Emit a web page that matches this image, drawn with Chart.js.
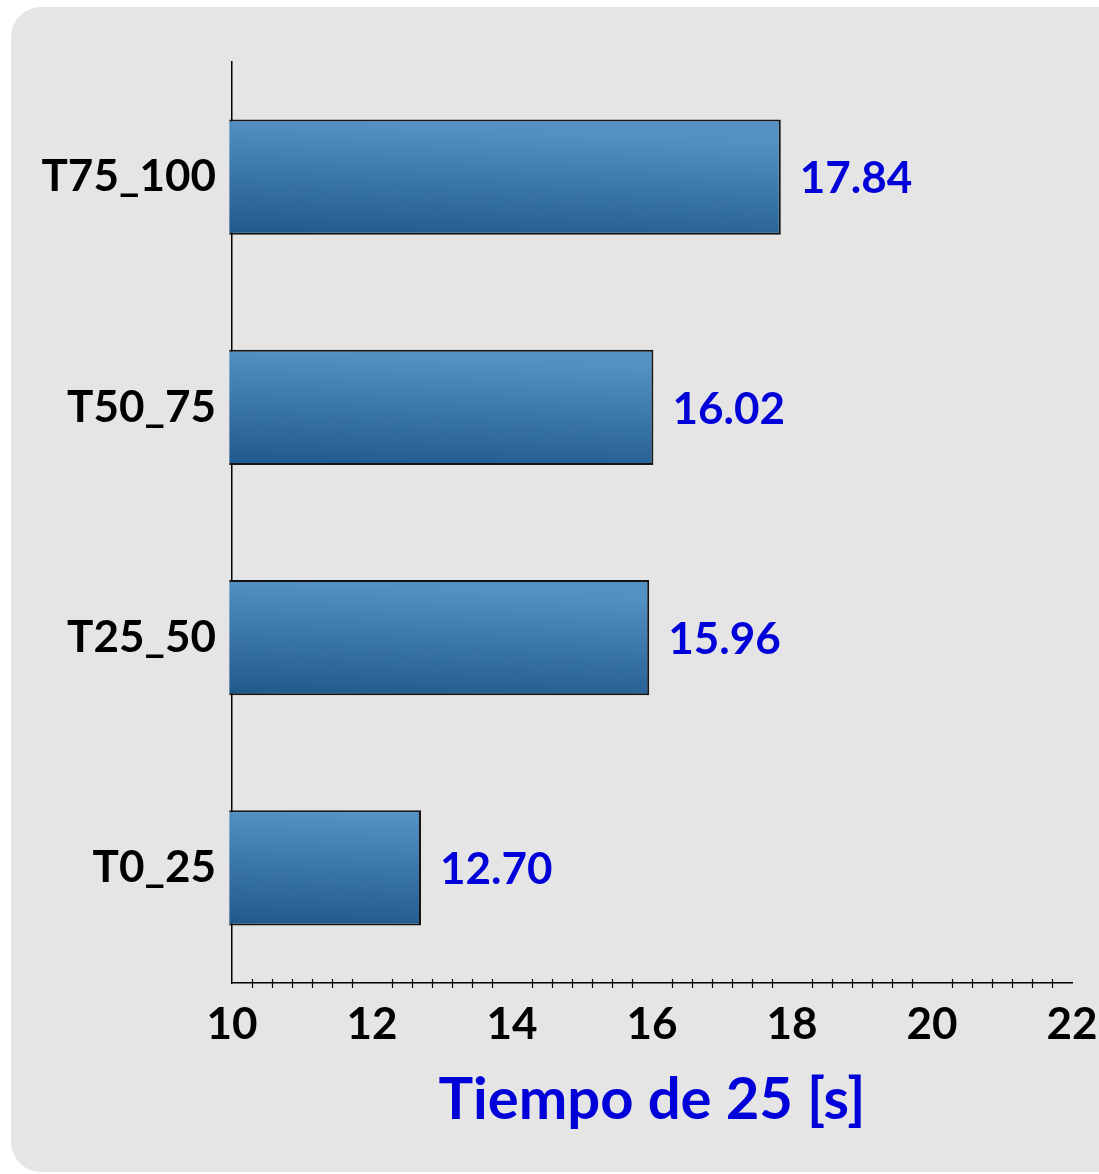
<!DOCTYPE html>
<html>
<head>
<meta charset="utf-8">
<script src="https://cdn.jsdelivr.net/npm/chart.js@4/dist/chart.umd.min.js"></script>
<style>
  html, body { margin: 0; padding: 0; background: #ffffff; }
  #wrap { width: 1099px; height: 1174px; }
</style>
</head>
<body>
<div id="wrap"><canvas id="timeChart" width="1099" height="1174"></canvas></div>
<script>
// chart data
const categories = ["T75_100", "T50_75", "T25_50", "T0_25"];
const tiempos = [17.84, 16.02, 15.96, 12.70];
const axisMin = 10;
const axisMax = 22;
const axisTitle = "Tiempo de 25 [s]";

const FONT = "Lato, 'DejaVu Sans', sans-serif";
const BLUE_TEXT = "#0000d8";

// rounded grey panel behind everything
const panelPlugin = {
  id: "panel",
  beforeDraw(chart) {
    const ctx = chart.ctx;
    const x = 11, y = 7, w = chart.width + 40, h = chart.height - 9, r = 30;
    ctx.save();
    ctx.fillStyle = "#e5e5e5";
    ctx.beginPath();
    ctx.moveTo(x + r, y);
    ctx.lineTo(x + w, y);
    ctx.lineTo(x + w, y + h);
    ctx.lineTo(x + r, y + h);
    ctx.arcTo(x, y + h, x, y + h - r, r);
    ctx.lineTo(x, y + r);
    ctx.arcTo(x, y, x + r, y, r);
    ctx.closePath();
    ctx.fill();
    ctx.restore();
  }
};

// small ticks crossing the x axis, 7 per major step, none on the majors
const minorTicksPlugin = {
  id: "minorTicks",
  afterDraw(chart) {
    const xs = chart.scales.x;
    const ctx = chart.ctx;
    const yAxis = chart.chartArea.bottom;
    ctx.save();
    ctx.strokeStyle = "#000";
    ctx.lineWidth = 1.2;
    for (let m = axisMin; m < axisMax; m += 2) {
      for (let k = 1; k < 7; k++) {
        const px = Math.round(xs.getPixelForValue(m + (2 * k) / 7)) + 0.5;
        ctx.beginPath();
        ctx.moveTo(px, yAxis - 4);
        ctx.lineTo(px, yAxis + 5);
        ctx.stroke();
      }
    }
    ctx.restore();
  }
};

// value labels at the end of each bar
const valueLabelPlugin = {
  id: "valueLabels",
  afterDatasetsDraw(chart) {
    const ctx = chart.ctx;
    const meta = chart.getDatasetMeta(0);
    ctx.save();
    ctx.fillStyle = BLUE_TEXT;
    ctx.font = "bold 44px " + FONT;
    ctx.textAlign = "left";
    ctx.textBaseline = "middle";
    meta.data.forEach((bar, i) => {
      ctx.fillText(tiempos[i].toFixed(2), bar.x + 19, bar.y + 2);
    });
    ctx.restore();
  }
};

function barGradient(context) {
  const chart = context.chart;
  const ys = chart.scales.y;
  const xs = chart.scales.x;
  if (!ys || !xs || context.dataIndex === undefined) return "#3a75aa";
  const yc = ys.getPixelForValue(context.dataIndex);
  const x0 = xs.getPixelForValue(axisMin);
  if (!isFinite(yc) || !isFinite(x0)) return "#3a75aa";
  const half = 58;
  const g = chart.ctx.createLinearGradient(x0 + 5, yc - half, x0, yc + half);
  g.addColorStop(0, "#5390c4");
  g.addColorStop(1, "#1f588c");
  return g;
}

const ctx = document.getElementById("timeChart").getContext("2d");
const timeChart = new Chart(ctx, {
  type: "bar",
  data: {
    labels: categories,
    datasets: [
      {
        data: tiempos,
        base: 9.96,
        clip: false,
        backgroundColor: barGradient,
        borderColor: "#151515",
        borderWidth: 2,
        borderSkipped: "start",
        categoryPercentage: 1.0,
        barPercentage: 0.5,
      },
    ],
  },
  options: {
    indexAxis: "y",
    responsive: false,
    animation: false,
    layout: { padding: { top: 62, right: 27, left: 0, bottom: 0 } },
    plugins: {
      legend: { display: false },
      tooltip: { enabled: false },
    },
    scales: {
      x: {
        min: axisMin,
        max: axisMax,
        grid: { display: false },
        border: { display: true, color: "#000", width: 1.5 },
        ticks: {
          stepSize: 2,
          color: "#000",
          padding: 7,
          maxRotation: 0,
          font: { family: FONT, size: 44, weight: "bold" },
        },
        title: {
          display: true,
          text: axisTitle,
          color: BLUE_TEXT,
          font: { family: FONT, size: 58, weight: "bold" },
          padding: { top: 0, bottom: 39 },
        },
        afterFit(scale) {
          scale.height = 191;
          scale.paddingRight = 0;
          scale.paddingLeft = 0;
        },
      },
      y: {
        grid: { display: false },
        border: { display: true, color: "#000", width: 1.5 },
        ticks: {
          color: "#000",
          padding: 8,
          font: { family: FONT, size: 44, weight: "bold" },
        },
        afterFit(scale) { scale.width = 232; },
      },
    },
  },
  plugins: [panelPlugin, minorTicksPlugin, valueLabelPlugin],
});
</script>
</body>
</html>
